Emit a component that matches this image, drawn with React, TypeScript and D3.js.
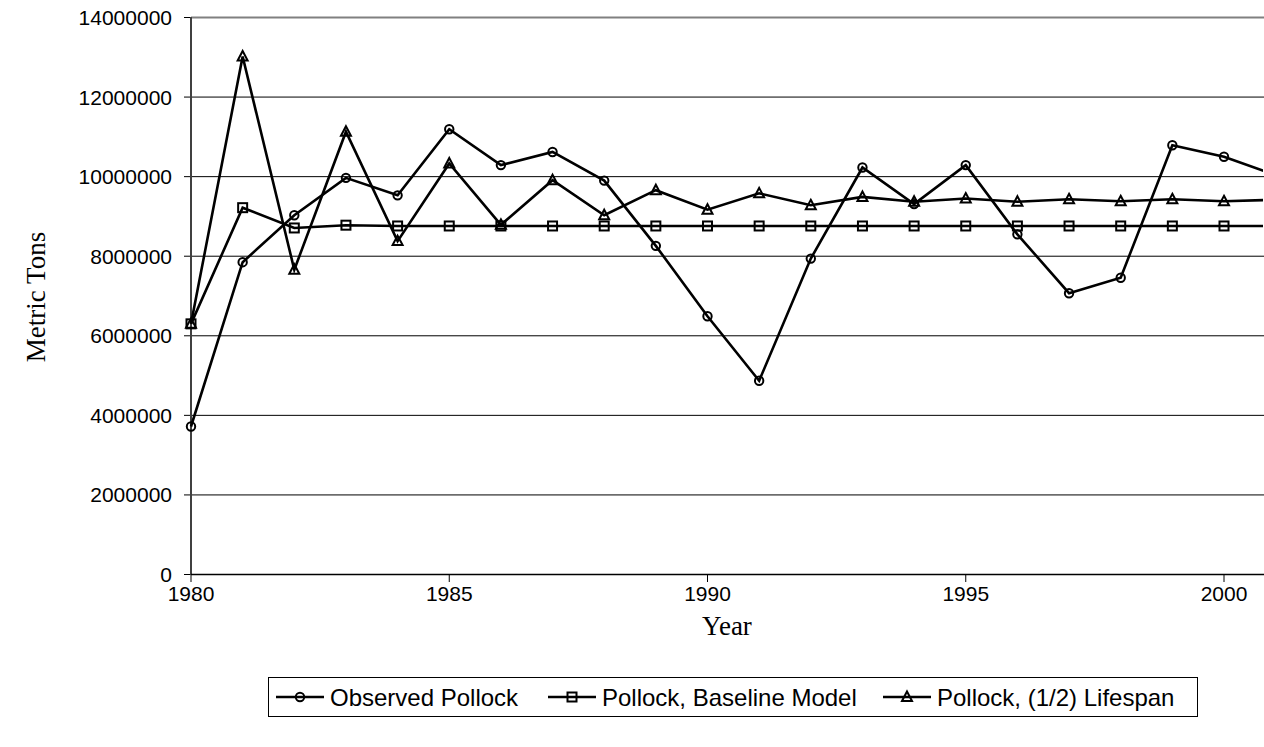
import React from "react";
import * as d3 from "d3";

const years = [1980, 1981, 1982, 1983, 1984, 1985, 1986, 1987, 1988, 1989, 1990, 1991, 1992, 1993, 1994, 1995, 1996, 1997, 1998, 1999, 2000, 2001];
const observed = [3720000, 7850000, 9030000, 9970000, 9530000, 11190000, 10290000, 10620000, 9900000, 8260000, 6490000, 4870000, 7940000, 10230000, 9310000, 10290000, 8550000, 7070000, 7460000, 10790000, 10500000, 10040000];
const baseline = [6300000, 9220000, 8710000, 8780000, 8760000, 8760000, 8760000, 8760000, 8760000, 8760000, 8760000, 8760000, 8760000, 8760000, 8760000, 8760000, 8760000, 8760000, 8760000, 8760000, 8760000, 8760000];
const halfLife = [6300000, 13020000, 7660000, 11130000, 8380000, 10330000, 8790000, 9910000, 9030000, 9660000, 9170000, 9580000, 9280000, 9490000, 9370000, 9450000, 9370000, 9430000, 9380000, 9430000, 9380000, 9420000];
const yTicks = [0, 2000000, 4000000, 6000000, 8000000, 10000000, 12000000, 14000000];
const xTicks = [1980, 1985, 1990, 1995, 2000];
const seriesNames = ["Observed Pollock", "Pollock, Baseline Model", "Pollock, (1/2) Lifespan"];

const W = 1264;
const H = 747;
const SANS = "Arial, 'Liberation Sans', sans-serif";
const SERIF = "'Times New Roman', 'Liberation Serif', serif";

function Marker({ kind, x, y }: { kind: string; x: number; y: number }) {
  if (kind === "circle") return <circle cx={x} cy={y} r={4.2} fill="none" stroke="#000" strokeWidth={2} />;
  if (kind === "square") return <rect x={x - 4.5} y={y - 4.5} width={9} height={9} fill="none" stroke="#000" strokeWidth={2} />;
  const s = 5;
  return <path d={`M${x},${y - s - 0.5}L${x + s},${y + s - 1}L${x - s},${y + s - 1}Z`} fill="none" stroke="#000" strokeWidth={2} strokeLinejoin="miter" />;
}

export default function App() {
  const x = d3.scaleLinear().domain([1980, 2000]).range([191, 1224]);
  const y = d3.scaleLinear().domain([0, 14000000]).range([574.5, 17.5]);
  const line = d3.line<number>().x((_, i) => x(years[i])).y((d) => y(d));
  const series = [
    { name: seriesNames[0], values: observed, kind: "circle" },
    { name: seriesNames[1], values: baseline, kind: "square" },
    { name: seriesNames[2], values: halfLife, kind: "triangle" },
  ];
  const legendItems = [276, 548, 883];
  const legendY = 697;
  return (
    <svg width={W} height={H} style={{ position: "absolute", left: 0, top: 0, background: "#fff" }}>
      <defs>
        <clipPath id="plotclip">
          <rect x={0} y={0} width={1263} height={H} />
        </clipPath>
      </defs>
      <rect x={0} y={0} width={W} height={H} fill="#fff" />
      {yTicks.map((t) => (
        <g key={t}>
          {t > 0 && (
            <line x1={191} x2={W} y1={y(t)} y2={y(t)} stroke={t === 14000000 ? "#808080" : "#000"} strokeWidth={t === 14000000 ? 2 : 1} />
          )}
          <line x1={184} x2={191} y1={y(t)} y2={y(t)} stroke="#000" strokeWidth={1} />
          <text x={172} y={y(t)} dy="0.36em" textAnchor="end" fontFamily={SANS} fontSize={21} fill="#000">
            {t}
          </text>
        </g>
      ))}
      <line x1={191} x2={191} y1={17} y2={575} stroke="#404040" strokeWidth={2} />
      <line x1={191} x2={W} y1={574.5} y2={574.5} stroke="#000" strokeWidth={1.5} />
      {xTicks.map((t) => (
        <g key={t}>
          <line x1={x(t)} x2={x(t)} y1={574.5} y2={582} stroke="#000" strokeWidth={1} />
          <text x={x(t)} y={601} textAnchor="middle" fontFamily={SANS} fontSize={21} fill="#000">
            {t}
          </text>
        </g>
      ))}
      <g clipPath="url(#plotclip)">
        {series.map((s) => (
          <g key={s.name}>
            <path d={line(s.values) || ""} fill="none" stroke="#000" strokeWidth={2.6} strokeLinejoin="miter" />
            {s.values.map((v, i) => (
              <Marker key={i} kind={s.kind} x={x(years[i])} y={y(v)} />
            ))}
          </g>
        ))}
      </g>
      <text x={727} y={635} textAnchor="middle" fontFamily={SERIF} fontSize={27} fill="#000">
        Year
      </text>
      <text transform={`translate(45,297) rotate(-90)`} textAnchor="middle" fontFamily={SERIF} fontSize={27} fill="#000">
        Metric Tons
      </text>
      <rect x={268.5} y={677.5} width={929} height={39} fill="#fff" stroke="#000" strokeWidth={1} />
      {series.map((s, i) => (
        <g key={s.name}>
          <line x1={legendItems[i]} x2={legendItems[i] + 48} y1={legendY} y2={legendY} stroke="#000" strokeWidth={2.6} />
          <Marker kind={s.kind} x={legendItems[i] + 24} y={legendY} />
          <text x={legendItems[i] + 54} y={legendY + 8.5} fontFamily={SANS} fontSize={24} fill="#000">
            {s.name}
          </text>
        </g>
      ))}
    </svg>
  );
}
